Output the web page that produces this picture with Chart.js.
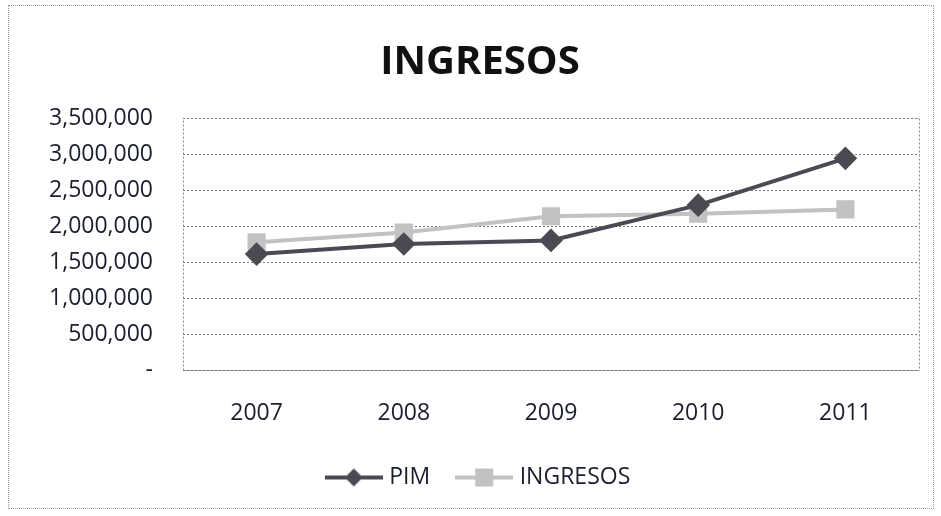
<!DOCTYPE html>
<html><head><meta charset="utf-8">
<script src="https://cdn.jsdelivr.net/npm/chart.js@4"></script>
<style>
html,body{margin:0;padding:0;background:#fff;}
#wrap{position:absolute;left:8px;top:5px;width:926px;height:504px;border:1px dotted #999;box-sizing:border-box;}
canvas{display:block;}
</style></head><body>
<div id="wrap"><canvas id="c" width="924" height="502"></canvas></div>
<script>
const categories = ['2007','2008','2009','2010','2011'];
const pimValues = [1610000, 1750000, 1800000, 2290000, 2940000];
const ingresosValues = [1775000, 1910000, 2135000, 2170000, 2230000];
const yTicks = [0, 500000, 1000000, 1500000, 2000000, 2500000, 3000000, 3500000];

const FONT = "'Open Sans', Lato, sans-serif";
const PIM_COLOR = '#4a4a52';
const ING_COLOR = '#c2c2c2';
const TXT = '#1a1f2e';

function legendIcon(color, style){
  const c = document.createElement('canvas');
  c.width = 58; c.height = 22;
  const g = c.getContext('2d');
  g.strokeStyle = color; g.lineWidth = 4;
  g.beginPath(); g.moveTo(0,11); g.lineTo(58,11); g.stroke();
  g.fillStyle = color;
  if(style==='diamond'){
    g.beginPath(); g.moveTo(29,2); g.lineTo(38,11); g.lineTo(29,20); g.lineTo(20,11); g.closePath(); g.fill();
  } else {
    g.fillRect(20,2,18,18);
  }
  return c;
}

const plotBorder = {
  id:'plotBorder',
  afterDraw(chart){
    const a = chart.chartArea, ctx = chart.ctx;
    ctx.save();
    ctx.strokeStyle = '#8a8a8a'; ctx.lineWidth = 1; ctx.setLineDash([2,2]);
    ctx.strokeRect(Math.round(a.left)+0.5, Math.round(a.top)+0.5, Math.round(a.right-a.left), Math.round(a.bottom-a.top));
    ctx.restore();
  }
};

new Chart(document.getElementById('c'), {
  type:'line',
  data:{
    labels: categories,
    datasets:[
      {label:'PIM', data: pimValues, borderColor: PIM_COLOR, backgroundColor: PIM_COLOR,
       borderWidth:4, pointStyle:'rectRot', pointRadius:9, pointHoverRadius:9, tension:0, order:1},
      {label:'INGRESOS', data: ingresosValues, borderColor: ING_COLOR, backgroundColor: ING_COLOR,
       borderWidth:4, pointStyle:'rect', pointRadius:10, pointHoverRadius:10, tension:0, order:2}
    ]
  },
  options:{
    responsive:false, animation:false,
    layout:{padding:{left:30,right:12,top:0,bottom:9}},
    plugins:{
      title:{display:true, text:'INGRESOS', color:'#111', font:{family:FONT, size:40, weight:'bold'}, padding:{top:33,bottom:31}},
      legend:{position:'bottom', labels:{
        usePointStyle:true, pointStyleWidth:48, padding:30, color:TXT,
        font:{family:FONT, size:23},
        generateLabels(chart){
          return chart.data.datasets.map((d,i)=>({
            text:d.label, datasetIndex:i, hidden:false, fontColor:TXT,
            pointStyle: legendIcon(d.borderColor, i===0?'diamond':'rect'), lineWidth:0, strokeStyle:'transparent', fillStyle:'transparent'
          }));
        }
      }},
      tooltip:{enabled:false}
    },
    scales:{
      x:{offset:true, grid:{display:false}, border:{display:false},
         afterFit(ax){ ax.height = 66; },
         ticks:{color:TXT, font:{family:FONT,size:23}, padding:22}},
      y:{min:0, max:3500000, afterBuildTicks(ax){ax.ticks = yTicks.map(v=>({value:v}));},
         afterFit(ax){ ax.width = 144; },
         grid:{color:'#7a7a7a', drawTicks:false},
         border:{display:false, dash:[2,2]},
         ticks:{color:TXT, font:{family:FONT,size:23}, padding:30,
           callback:(v)=> v===0 ? '-' : Number(v).toLocaleString('en-US')}
      }
    }
  },
  plugins:[plotBorder]
});
</script>
</body></html>
